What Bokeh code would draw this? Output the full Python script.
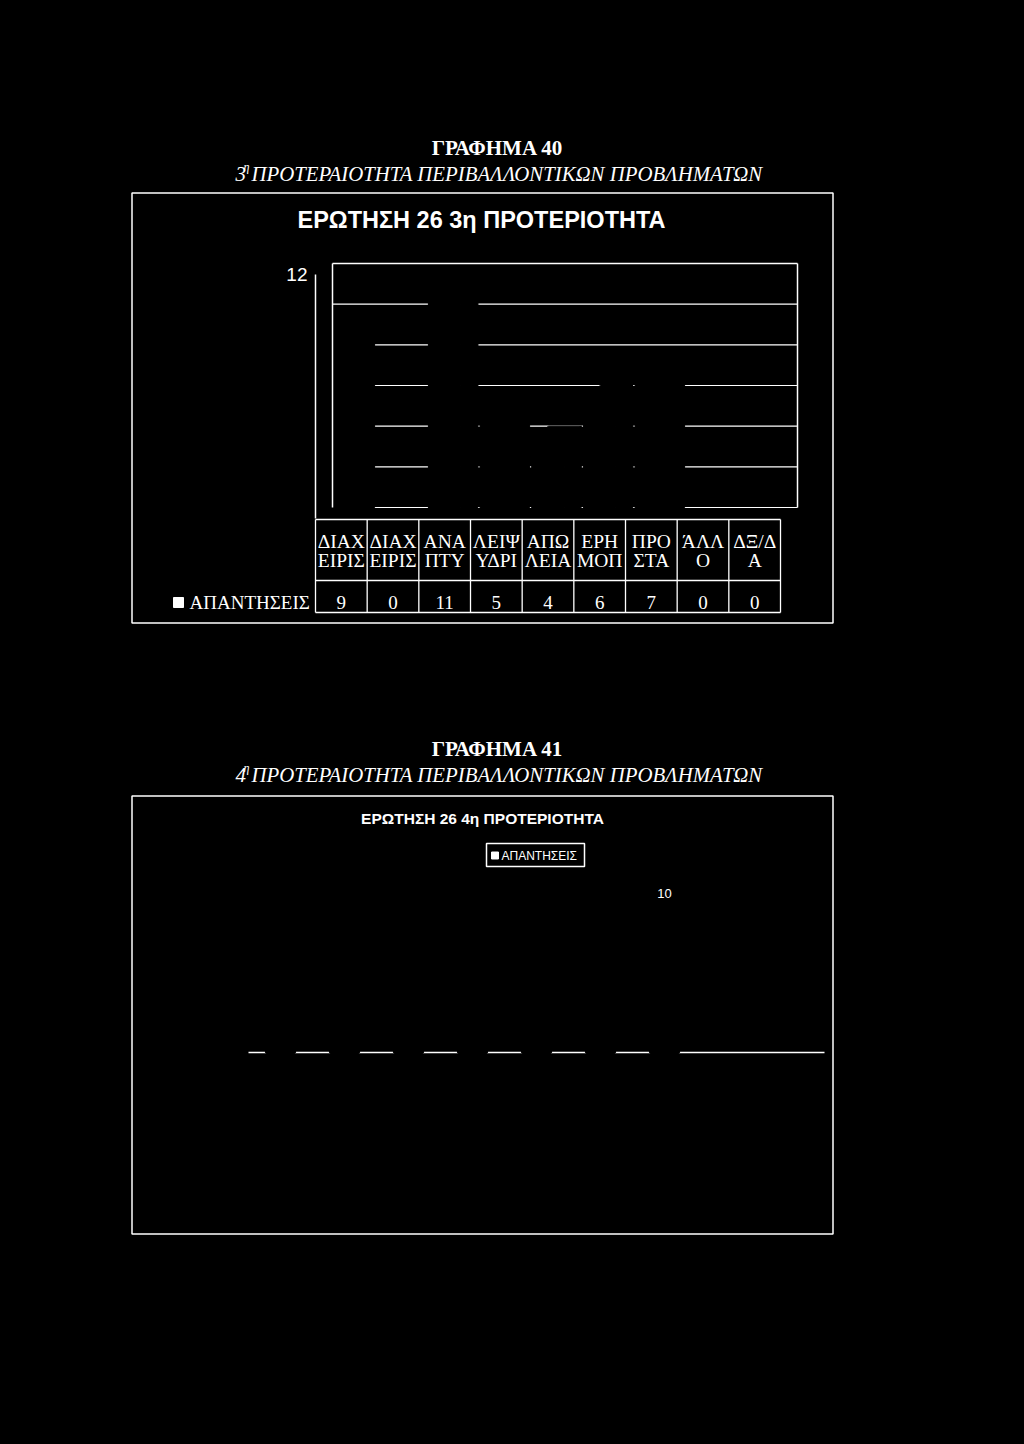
import numpy as np
from bokeh.plotting import figure
from bokeh.models import Range1d
from bokeh.core.properties import value
from bokeh.embed import file_html
from bokeh.resources import INLINE

# ---------------- data ----------------
cat_line1 = ["ΔΙΑΧ", "ΔΙΑΧ", "ΑΝΑ", "ΛΕΙΨ", "ΑΠΩ", "ΕΡΗ", "ΠΡΟ", "ΆΛΛ", "ΔΞ/Δ"]
cat_line2 = ["ΕΙΡΙΣ", "ΕΙΡΙΣ", "ΠΤΥ", "ΥΔΡΙ", "ΛΕΙΑ", "ΜΟΠ", "ΣΤΑ", "Ο", "Α"]
answers_3rd = [9, 0, 11, 5, 4, 6, 7, 0, 0]
answers_4th = [6, 3, 7, 5, 4, 7, 10, 0, 0]
series_label = "ΑΠΑΝΤΗΣΕΙΣ"
y_max = 12
y_ticks_3rd = [12]
y_tick_labels_3rd = ["12"]
grid_values = [0, 2, 4, 6, 8, 10]

heading_1 = "ΓΡΑΦΗΜΑ 40"
sub_num_1 = "3"
heading_2 = "ΓΡΑΦΗΜΑ 41"
sub_num_2 = "4"
sub_sup = "η"
sub_text = "ΠΡΟΤΕΡΑΙΟΤΗΤΑ ΠΕΡΙΒΑΛΛΟΝΤΙΚΩΝ ΠΡΟΒΛΗΜΑΤΩΝ"
chart_title_1 = "ΕΡΩΤΗΣΗ 26 3η ΠΡΟΤΕΡΙΟΤΗΤΑ"
chart_title_2 = "ΕΡΩΤΗΣΗ 26 4η ΠΡΟΤΕΡΙΟΤΗΤΑ"

# ---------------- page canvas ----------------
M = 0            # page offset of the canvas (the page template has no body margin)
W, H = 1008, 1428
SERIF = value("Liberation Serif")
SANS = value("Liberation Sans")
FG = "white"
BG = "black"

p = figure(width=W, height=H, x_range=Range1d(M, M + W), y_range=Range1d(M + H, M),
           output_backend="svg", toolbar_location=None, min_border=0,
           x_axis_location=None, y_axis_location=None,
           background_fill_color=BG, border_fill_color=BG, outline_line_color=None)
p.xgrid.visible = False
p.ygrid.visible = False


def x_range_for(a, pa, b, pb):
    k = (pb - pa) / (b - a)
    s = a - (pa - M) / k
    return Range1d(start=s, end=s + W / k)


def y_range_for(a, pa, b, pb):
    k = (pa - pb) / (b - a)
    s = a - (M + H - pa) / k
    return Range1d(start=s, end=s + H / k)


n = len(answers_3rd)
idx = list(range(n))

# chart 1 plot geometry (front plane) and 3D depth
C1_L, C1_R, C1_BASE, C1_TOP = 315, 780, 518, 274
DEPTH_X, DEPTH_Y = 17, 11
# chart 2 plot geometry
C2_L, C2_R, C2_BASE, C2_TOP = 248, 824, 1052, 877

p.extra_x_ranges = {
    "c1x": x_range_for(-0.5, C1_L, n - 0.5, C1_R),
    "c2x": x_range_for(-0.5, C2_L, n - 0.5, C2_R),
}
p.extra_y_ranges = {
    "c1y": y_range_for(0, C1_BASE, y_max, C1_TOP),
    "c2y": y_range_for(0, C2_BASE, y_max, C2_TOP),
}
k1x = (C1_R - C1_L) / n
k1y = (C1_BASE - C1_TOP) / y_max
dxu = DEPTH_X / k1x
dyu = DEPTH_Y / k1y
R1 = dict(x_range_name="c1x", y_range_name="c1y")
R2 = dict(x_range_name="c2x", y_range_name="c2y")

# ---------------- headings ----------------
def headings(h, num, dy):
    p.text(x=[497], y=[147 + dy], text=[h], text_font=SERIF, text_font_style="bold",
           text_font_size="21px", text_color=FG, text_align="center", text_baseline="middle")
    p.text(x=[235], y=[173 + dy], text=[num], text_font=SERIF, text_font_style="italic",
           text_font_size="21px", text_color=FG, text_align="left", text_baseline="middle")
    p.text(x=[243], y=[166 + dy], text=[sub_sup], text_font=SERIF, text_font_style="italic",
           text_font_size="12px", text_color=FG, text_align="left", text_baseline="middle")
    p.text(x=[251], y=[173 + dy], text=[sub_text], text_font=SERIF, text_font_style="italic",
           text_font_size="20.8px", text_color=FG, text_align="left", text_baseline="middle")

headings(heading_1, sub_num_1, 0)
headings(heading_2, sub_num_2, 601)

# outer boxes
p.quad(left=[131.5, 131.5], right=[832.5, 832.5], top=[192.5, 795.5], bottom=[622.5, 1233.5],
       fill_color=None, line_color=FG, line_width=1.5)

# ---------------- chart 1 ----------------
p.text(x=[481], y=[219], text=[chart_title_1], text_font=SANS, text_font_style="bold",
       text_font_size="23.5px", text_color=FG, text_align="center", text_baseline="middle")

# back wall gridlines (behind the columns)
p.multi_line(xs=[[-0.5 + dxu, n - 0.5 + dxu] for g in grid_values],
             ys=[[g + dyu, g + dyu] for g in grid_values],
             line_color=FG, line_width=1.2, **R1)

# 3D columns (black on black, as in the scan)
bw = 0.63
shown = [1.0 if v > 0 else 0.0 for v in answers_3rd]
p.vbar(x=idx, width=bw, bottom=0, top=answers_3rd, fill_color=BG, line_color=BG,
       fill_alpha=shown, line_alpha=shown, **R1)
top_xs = [[i - bw / 2, i + bw / 2, i + bw / 2 + dxu, i - bw / 2 + dxu] for i in idx]
top_ys = [[v, v, v + dyu, v + dyu] for v in answers_3rd]
side_xs = [[i + bw / 2, i + bw / 2 + dxu, i + bw / 2 + dxu, i + bw / 2] for i in idx]
side_ys = [[0, dyu, v + dyu, v] for v in answers_3rd]
p.patches(xs=top_xs + side_xs, ys=top_ys + side_ys, fill_color=BG, line_color=BG,
          fill_alpha=shown + shown, line_alpha=shown + shown, **R1)

# back wall edges
p.multi_line(xs=[[-0.5 + dxu, -0.5 + dxu], [n - 0.5 + dxu, n - 0.5 + dxu],
                 [-0.5 + dxu, n - 0.5 + dxu]],
             ys=[[dyu, y_max + dyu], [dyu, y_max + dyu], [y_max + dyu, y_max + dyu]],
             line_color=FG, line_width=1.5, **R1)

# front value axis
p.segment(x0=[-0.5], y0=[0], x1=[-0.5], y1=[y_max], line_color=FG, line_width=1.5, **R1)
p.text(x=[-0.5] * len(y_ticks_3rd), y=y_ticks_3rd, text=y_tick_labels_3rd, x_offset=-8,
       text_font=SANS, text_font_size="19px", text_color=FG,
       text_align="right", text_baseline="middle", **R1)

# data table
TB_TOP, TB_MID, TB_BOT = 519, 580, 612
p.multi_line(xs=[[-0.5, n - 0.5]] * 3, ys=[[TB_TOP, TB_TOP], [TB_MID, TB_MID], [TB_BOT, TB_BOT]],
             line_color=FG, line_width=1.3, x_range_name="c1x")
bounds = list(np.arange(n + 1) - 0.5)
p.multi_line(xs=[[b, b] for b in bounds], ys=[[TB_TOP, TB_BOT] for b in bounds],
             line_color=FG, line_width=1.3, x_range_name="c1x")
p.text(x=idx, y=[541] * n, text=cat_line1, text_font=SERIF, text_font_size="19.5px",
       text_color=FG, text_align="center", text_baseline="middle", x_range_name="c1x")
p.text(x=idx, y=[560] * n, text=cat_line2, text_font=SERIF, text_font_size="19.5px",
       text_color=FG, text_align="center", text_baseline="middle", x_range_name="c1x")
p.text(x=idx, y=[602] * n, text=[str(v) for v in answers_3rd], text_font=SERIF,
       text_font_size="19px", text_color=FG, text_align="center", text_baseline="middle",
       x_range_name="c1x")
# legend key in the table
p.rect(x=[178], y=[602], width=10, height=10, fill_color=FG, line_color=FG)
p.text(x=[189], y=[602], text=[series_label], text_font=SERIF, text_font_size="19px",
       text_color=FG, text_align="left", text_baseline="middle")

# ---------------- chart 2 ----------------
p.text(x=[482], y=[818], text=[chart_title_2], text_font=SANS, text_font_style="bold",
       text_font_size="15.5px", text_color=FG, text_align="center", text_baseline="middle")
# legend
p.quad(left=[486], right=[584], top=[843], bottom=[866], fill_color=BG, line_color=FG,
       line_width=1.5)
p.rect(x=[494.5], y=[855], width=7, height=7, fill_color=FG, line_color=FG)
p.text(x=[501], y=[855], text=[series_label], text_font=SANS, text_font_size="12px",
       text_color=FG, text_align="left", text_baseline="middle")

# category axis line, then columns over it
p.segment(x0=[-0.5], y0=[0], x1=[n - 0.5], y1=[0], line_color=FG, line_width=1.5, **R2)
p.vbar(x=idx, width=0.44, bottom=0, top=answers_4th, fill_color=BG, line_color=BG,
       line_width=3, line_alpha=[1.0 if v > 0 else 0.0 for v in answers_4th], **R2)
top_value = max(answers_4th)
labels_4th = [str(v) if v == top_value else "" for v in answers_4th]
p.text(x=idx, y=answers_4th, text=labels_4th, y_offset=-9, text_font=SANS,
       text_font_size="13px", text_color=FG, text_align="center", text_baseline="bottom", **R2)

TEMPLATE = """{% block preamble %}<style>html, body { background: #000000; }</style>{% endblock %}"""
open("out.html", "w").write(file_html(p, INLINE, title="ΓΡΑΦΗΜΑ 40 - 41", template=TEMPLATE))
